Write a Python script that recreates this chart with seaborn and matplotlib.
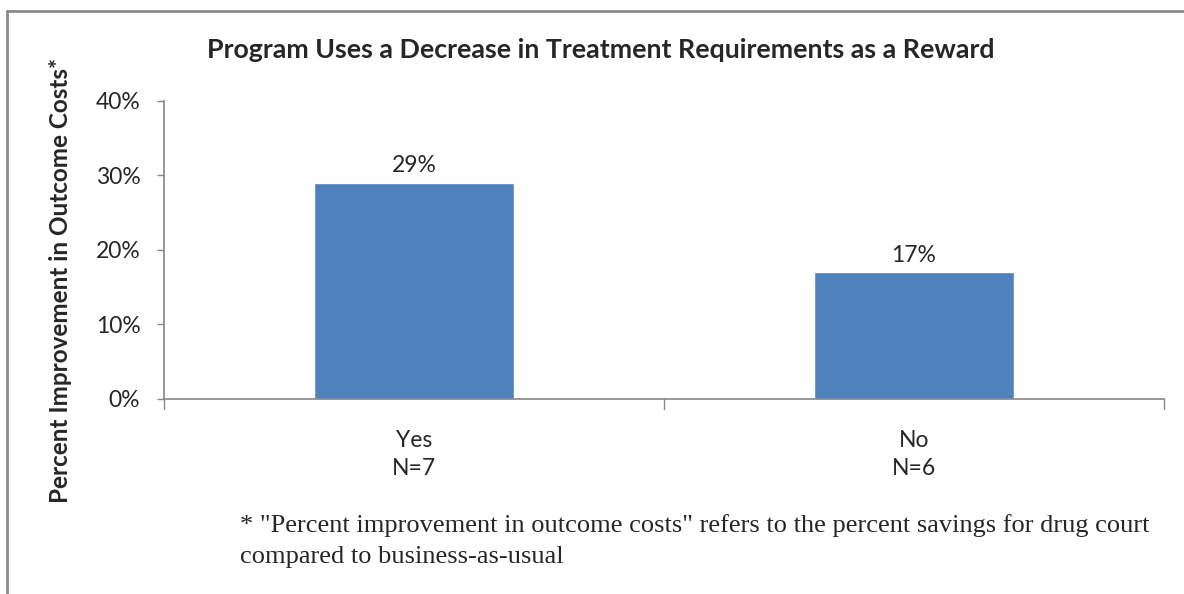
import matplotlib
matplotlib.use('Agg')
import matplotlib.pyplot as plt
import pandas as pd
import seaborn as sns
from matplotlib.lines import Line2D

# 数据
categories = ["Yes\nN=7", "No\nN=6"]
values = [29, 17]
bar_labels = ["29%", "17%"]
y_ticks = [0, 10, 20, 30, 40]
title = "Program Uses a Decrease in Treatment Requirements as a Reward"
y_label = "Percent Improvement in Outcome Costs*"
footnote = ('* "Percent improvement in outcome costs" refers to the percent savings for drug court\n'
            'compared to business-as-usual')

sns.set_style("white")
plt.rcParams['font.family'] = ['Lato', 'DejaVu Sans']

df = pd.DataFrame({"cat": categories, "val": values})

fig = plt.figure(figsize=(11.84, 5.94), dpi=100)
ax = fig.add_axes([0.1385, 0.3283, 0.8446, 0.5017])

sns.barplot(data=df, x="cat", y="val", order=categories, color="#4F81BD",
            saturation=1, width=0.4, ax=ax)

ax.set_xlabel("")
ax.set_ylabel("")
ax.set_xlim(-0.5, 1.5)
ax.set_ylim(0, 40)
ax.set_yticks(y_ticks)
ax.set_yticklabels([f"{t}%" for t in y_ticks], fontsize=16.5)
ax.set_xticks([0, 1])
ax.set_xticklabels(categories, fontsize=16.5, linespacing=1.45)
ax.tick_params(axis='x', length=0, pad=22)
ax.tick_params(axis='y', length=5, width=1, color="#868686", pad=12, left=True)

# x轴分隔刻度
for xb in [-0.5, 0.5, 1.5]:
    ax.plot([xb, xb], [0, -0.035], transform=ax.get_xaxis_transform(),
            color="#868686", lw=1, clip_on=False)

for s in ["top", "right"]:
    ax.spines[s].set_visible(False)
for s in ["left", "bottom"]:
    ax.spines[s].set_color("#868686")
    ax.spines[s].set_linewidth(1.2)

for i, (v, lab) in enumerate(zip(values, bar_labels)):
    ax.text(i, v + 0.9, lab, ha="center", va="bottom", fontsize=16.5)

fig.text(0.507, 0.916, title, ha="center", va="center", fontsize=19.3, fontweight="bold")
fig.text(0.051, 0.528, y_label, ha="center", va="center", rotation=90,
         fontsize=17.5, fontweight="bold")
fig.text(0.2027, 0.089, footnote, ha="left", va="center", fontsize=19,
         family=["Liberation Serif", "DejaVu Serif"], linespacing=1.5)

# 外框
fig.add_artist(Line2D([0.006, 0.006], [0, 0.982], transform=fig.transFigure, color="#8c8c8c", lw=2))
fig.add_artist(Line2D([0.006, 1.0], [0.982, 0.982], transform=fig.transFigure, color="#8c8c8c", lw=2))

fig.savefig("out.png", dpi=100)
plt.close()
